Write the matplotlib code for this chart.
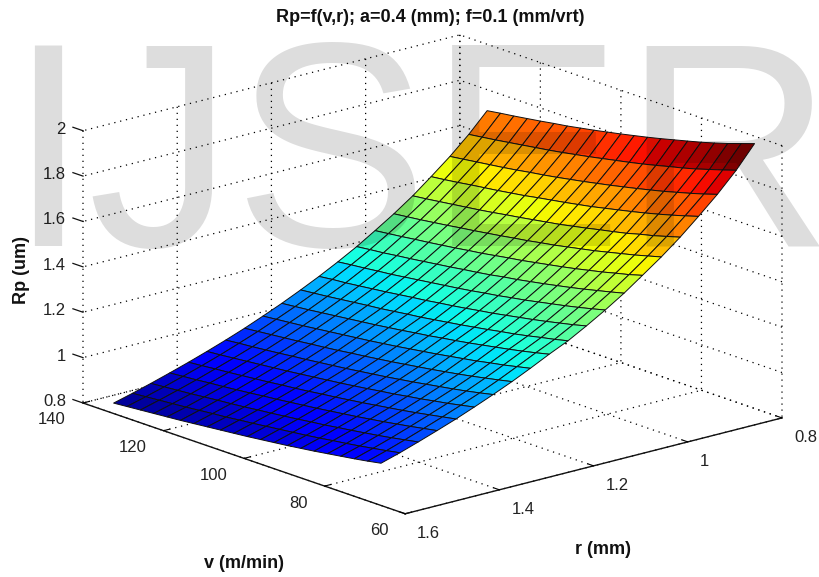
import matplotlib
matplotlib.use('Agg')
import numpy as np
import matplotlib.pyplot as plt
from mpl_toolkits.mplot3d import proj3d

W, H = 820, 577
v_values = [66, 69.32, 72.64, 75.96, 79.28, 82.6, 85.92, 89.24, 92.56, 95.88, 99.2,
            102.52, 105.84, 109.16, 112.48, 115.8, 119.12, 122.44, 125.76, 129.08, 132.4]
r_values = [1.6, 1.56, 1.521, 1.481, 1.441, 1.402, 1.362, 1.322, 1.283, 1.243, 1.203,
            1.164, 1.124, 1.084, 1.045, 1.005, 0.965, 0.926, 0.886, 0.846, 0.807]
rp_values = [
 [.986,.975,.965,.956,.947,.938,.930,.922,.915,.908,.901,.895,.889,.883,.877,.871,.866,.861,.856,.851,.846],
 [1.011,1.000,.990,.980,.971,.963,.954,.946,.939,.932,.925,.918,.912,.905,.900,.894,.888,.883,.878,.873,.868],
 [1.038,1.027,1.016,1.006,.997,.988,.980,.971,.964,.956,.949,.942,.936,.929,.923,.918,.912,.906,.901,.896,.891],
 [1.067,1.056,1.045,1.035,1.025,1.016,1.007,.999,.991,.983,.976,.969,.962,.956,.949,.943,.937,.932,.926,.921,.916],
 [1.097,1.086,1.075,1.064,1.054,1.045,1.036,1.027,1.019,1.011,1.004,.996,.989,.983,.976,.970,.964,.958,.953,.947,.942],
 [1.129,1.117,1.105,1.095,1.084,1.075,1.065,1.057,1.048,1.040,1.032,1.025,1.018,1.011,1.004,.998,.992,.986,.980,.974,.969],
 [1.163,1.150,1.138,1.127,1.117,1.107,1.097,1.088,1.079,1.071,1.063,1.055,1.048,1.041,1.034,1.028,1.021,1.015,1.009,1.004,.998],
 [1.199,1.186,1.174,1.162,1.151,1.141,1.131,1.122,1.113,1.104,1.096,1.088,1.081,1.073,1.066,1.060,1.053,1.047,1.041,1.035,1.029],
 [1.237,1.224,1.211,1.200,1.188,1.178,1.168,1.158,1.149,1.140,1.131,1.123,1.115,1.108,1.101,1.094,1.087,1.080,1.074,1.068,1.062],
 [1.278,1.264,1.251,1.239,1.228,1.217,1.206,1.196,1.187,1.177,1.169,1.160,1.152,1.144,1.137,1.130,1.123,1.116,1.109,1.103,1.097],
 [1.316,1.302,1.290,1.277,1.265,1.255,1.244,1.234,1.224,1.215,1.206,1.197,1.190,1.182,1.174,1.168,1.161,1.154,1.147,1.141,1.135],
 [1.361,1.346,1.333,1.320,1.308,1.297,1.286,1.275,1.266,1.256,1.247,1.239,1.230,1.223,1.215,1.207,1.200,1.193,1.186,1.181,1.174],
 [1.410,1.395,1.381,1.368,1.356,1.344,1.332,1.322,1.311,1.302,1.292,1.283,1.275,1.267,1.259,1.251,1.243,1.237,1.230,1.224,1.217],
 [1.463,1.448,1.434,1.420,1.407,1.395,1.383,1.372,1.361,1.352,1.341,1.332,1.324,1.315,1.307,1.299,1.291,1.284,1.276,1.270,1.263],
 [1.521,1.504,1.490,1.475,1.462,1.449,1.437,1.426,1.415,1.404,1.395,1.385,1.375,1.367,1.358,1.350,1.342,1.335,1.327,1.320,1.313],
 [1.581,1.565,1.549,1.535,1.521,1.507,1.495,1.483,1.471,1.461,1.450,1.441,1.431,1.422,1.413,1.405,1.396,1.388,1.380,1.373,1.366],
 [1.647,1.630,1.613,1.599,1.583,1.570,1.558,1.545,1.533,1.521,1.511,1.501,1.491,1.482,1.472,1.463,1.455,1.447,1.439,1.431,1.424],
 [1.718,1.700,1.683,1.667,1.652,1.638,1.625,1.612,1.599,1.588,1.577,1.567,1.557,1.546,1.537,1.528,1.520,1.512,1.503,1.495,1.488],
 [1.794,1.775,1.758,1.742,1.726,1.712,1.698,1.685,1.672,1.660,1.648,1.637,1.626,1.616,1.607,1.597,1.588,1.580,1.572,1.564,1.556],
 [1.879,1.860,1.842,1.824,1.808,1.794,1.779,1.765,1.752,1.740,1.728,1.716,1.705,1.694,1.684,1.675,1.666,1.657,1.648,1.640,1.632],
 [1.976,1.956,1.936,1.918,1.901,1.886,1.871,1.856,1.842,1.829,1.816,1.804,1.792,1.781,1.770,1.761,1.751,1.742,1.733,1.725,1.716],
]
v_ticks = [60, 80, 100, 120, 140]
r_ticks = [0.8, 1.0, 1.2, 1.4, 1.6]
rp_ticks = [0.8, 1.0, 1.2, 1.4, 1.6, 1.8, 2.0]
v_ticklabels = ['60', '80', '100', '120', '140']
r_ticklabels = ['0.8', '1', '1.2', '1.4', '1.6']
rp_ticklabels = ['0.8', '1', '1.2', '1.4', '1.6', '1.8', '2']

plt.rcParams['font.family'] = ['Liberation Sans', 'DejaVu Sans']
fig = plt.figure(figsize=(W / 100, H / 100), dpi=100, facecolor='white')
ax = fig.add_axes([0.1, 0.1, 0.8, 0.8 * W / H], projection='3d', proj_type='ortho', facecolor='none')
ax.view_init(elev=17.2, azim=139.3)
ax.set_box_aspect((494, 497, 285))
ax.set_xlim(60, 140, view_margin=0)
ax.set_ylim(0.8, 1.6, view_margin=0)
ax.set_zlim(0.8, 2.0, view_margin=0)

V, R = np.meshgrid(v_values, r_values)
Z = np.array(rp_values)
# MATLAB flat shading: each cell takes the colour of one corner (here its smaller-r corner)
norm = plt.Normalize(Z.min(), Z.max())
corner = np.vstack([Z[1:], Z[-1:]])
ax.plot_surface(V, R, Z, rstride=1, cstride=1, facecolors=plt.get_cmap('jet')(norm(corner)),
                edgecolor='#101010', linewidth=0.7, shade=False, antialiased=True)

ax.set_xticks(v_ticks)
ax.set_xticklabels([''] * len(v_ticks))
ax.set_yticks(r_ticks)
ax.set_yticklabels([''] * len(r_ticks))
ax.set_zticks(rp_ticks)
ax.set_zticklabels([''] * len(rp_ticks))

for axis in (ax.xaxis, ax.yaxis, ax.zaxis):
    axis.set_pane_color((1, 1, 1, 0))
    axis.pane.set_edgecolor((1, 1, 1, 0))
    axis._axinfo['grid'].update(color='black', linewidth=0.9, linestyle=(0, (1, 3.8)))
    axis._axinfo['tick']['inward_factor'] = 0.0
    axis._axinfo['tick']['outward_factor'] = 0.2
    axis.line.set_color('#111111')
    axis.line.set_linewidth(1.0)
ax.zaxis.line.set_color((0, 0, 0, 0))
ax.zaxis._axinfo['tick']['outward_factor'] = 0.0
# The z ticks belong on the left edge, where mplot3d does not put them
for t in rp_ticks:
    ax.plot([140, 142.5], [1.6, 1.6], [t, t], color='#111111', linewidth=0.9)


def pix(x, y, z):
    px, py, _ = proj3d.proj_transform(x, y, z, ax.get_proj())
    return ax.transData.transform((px, py))


# Place the axes so the box corners land where the reference has them
target_left = np.array([83.0, H - 403.0])
target_right = np.array([782.0, H - 418.0])
for _ in range(3):
    fig.canvas.draw()
    a = pix(140, 1.6, 0.8)
    b = pix(60, 0.8, 0.8)
    pos = ax.get_position(original=True)
    s = (target_right[0] - target_left[0]) / (b[0] - a[0])
    cx, cy = pos.x0 * W, pos.y0 * H
    w, h = pos.width * W * s, pos.height * H * s
    a2 = np.array([cx + (a[0] - cx) * s, cy + (a[1] - cy) * s])
    d = target_left - a2
    ax.set_position([(cx + d[0]) / W, (cy + d[1]) / H, w / W, h / H])
fig.canvas.draw()


def tick_text(point, dx, dy, label, ha):
    fig.text((point[0] + dx) / W, (point[1] + dy) / H, label, ha=ha, va='center',
             fontsize=12, color='#222222')


for t, lab in zip(v_ticks, v_ticklabels):
    tick_text(pix(t, 1.6, 0.8), -17, -17, lab, 'right')
for t, lab in zip(r_ticks, r_ticklabels):
    tick_text(pix(60, t, 0.8), 12, -20, lab, 'left')
for t, lab in zip(rp_ticks, rp_ticklabels):
    tick_text(pix(140, 1.6, t), -17, 1.5, lab, 'right')

fig.text(430 / W, 1 - 18 / H, 'Rp=f(v,r); a=0.4 (mm); f=0.1 (mm/vrt)', ha='center', va='center',
         fontsize=13, fontweight='bold', color='#111111')
fig.text(244 / W, 1 - 563 / H, 'v (m/min)', ha='center', va='center', fontsize=13, fontweight='bold', color='#111111')
fig.text(603 / W, 1 - 549 / H, 'r (mm)', ha='center', va='center', fontsize=13, fontweight='bold', color='#111111')
fig.text(22 / W, 1 - 270 / H, 'Rp (um)', ha='center', va='center', rotation=90, fontsize=13, fontweight='bold', color='#111111')
fig.text(7 / W, 1 - 246 / H, 'IJSER', ha='left', va='baseline', fontsize=210, color='black', alpha=0.135, zorder=100)

fig.savefig('out.png', dpi=100)
